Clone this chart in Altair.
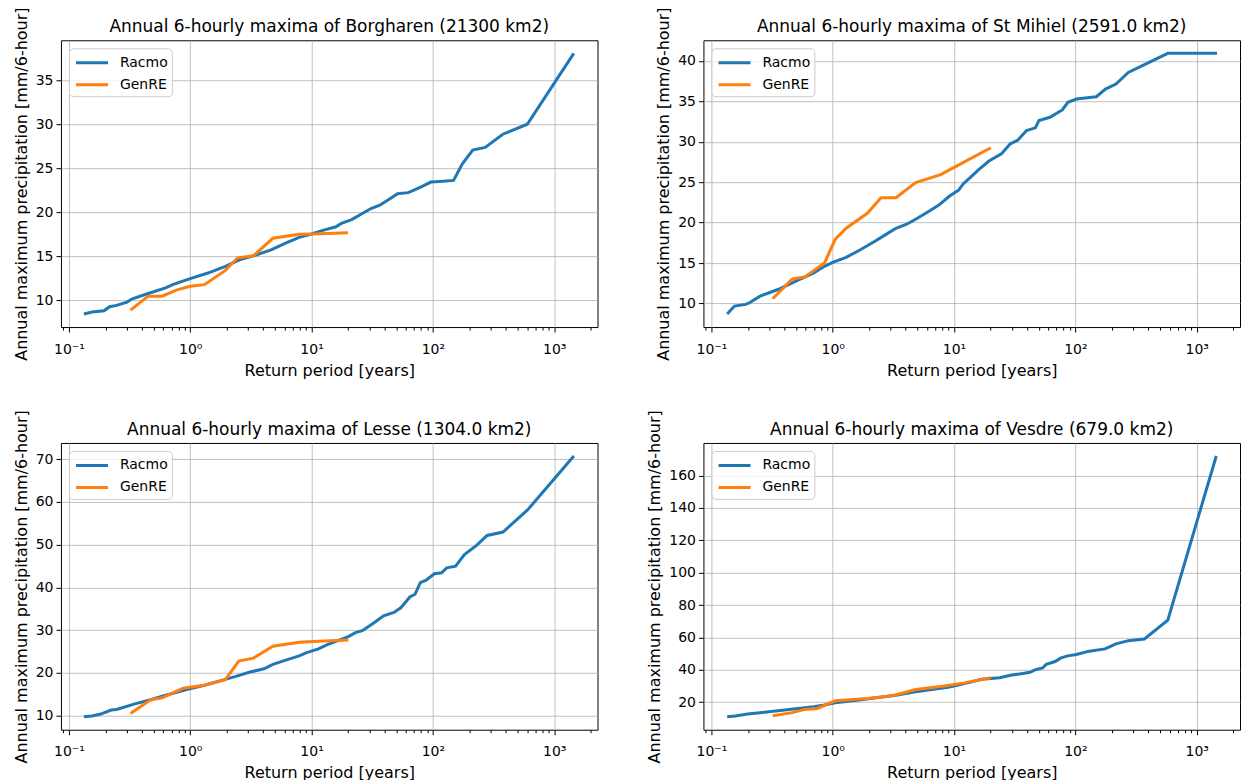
import altair as alt
import pandas as pd

FONT = "DejaVu Sans"
BLUE = "#1f77b4"
ORANGE = "#ff7f0e"
PANEL_W = 537
PANEL_H = 287

# Shared log x-range (return period in years) and the decade / minor tick positions
X_DOMAIN = [0.086, 2275]
MAJOR_TICKS = [0.1, 1, 10, 100, 1000]
MINOR_TICKS = [m * d for d in [0.01, 0.1, 1, 10, 100, 1000] for m in range(2, 10)]
MINOR_TICKS = [v for v in MINOR_TICKS if X_DOMAIN[0] <= v <= X_DOMAIN[1]]

# --- Borgharen ---
borg_racmo_T = [0.133, 0.155, 0.195, 0.216, 0.247, 0.301, 0.333, 0.45, 0.627, 0.716, 1.0, 1.4, 1.95,
                2.54, 3.32, 4.64, 6.05, 7.9, 10, 12.6, 15.9, 17.6, 21.4, 26.2, 30.9, 36.5, 43.3, 51.2,
                62.7, 71.3, 81.6, 96.3, 114, 148, 175, 213, 270, 377, 600, 1450]
borg_racmo_P = [8.46, 8.68, 8.83, 9.29, 9.44, 9.81, 10.19, 10.79, 11.43, 11.8, 12.48, 13.12, 13.87,
                14.62, 15.08, 15.75, 16.5, 17.18, 17.56, 18.0, 18.38, 18.76, 19.2, 19.89, 20.45, 20.83,
                21.47, 22.14, 22.26, 22.6, 22.97, 23.46, 23.53, 23.65, 25.53, 27.1, 27.4, 28.9, 30.04, 38.1]
borg_genre_T = [0.322, 0.45, 0.586, 0.766, 1.0, 1.31, 1.95, 2.46, 3.32, 4.8, 7.9, 10.3, 20]
borg_genre_P = [8.91, 10.49, 10.49, 11.17, 11.62, 11.8, 13.42, 14.85, 15.08, 17.07, 17.52, 17.56, 17.7]
borg_yticks = [10, 15, 20, 25, 30, 35]

# --- St Mihiel ---
mih_racmo_T = [0.135, 0.155, 0.192, 0.206, 0.252, 0.354, 0.497, 0.698, 0.855, 1.0, 1.29, 1.69, 2.21,
               2.71, 3.32, 4.07, 4.99, 6.12, 7.5, 9.2, 10.9, 12.0, 13.8, 15.8, 19.4, 24.6, 29.1, 33.3,
               39.6, 46.8, 50.1, 61.7, 78, 86.8, 102, 149, 177, 216, 273, 578, 1470]
mih_racmo_P = [8.69, 9.67, 9.88, 10.08, 10.9, 11.72, 12.75, 13.77, 14.59, 15.08, 15.7, 16.64, 17.66,
               18.48, 19.3, 19.8, 20.53, 21.35, 22.17, 23.28, 24.0, 24.84, 25.66, 26.48, 27.62, 28.52,
               29.75, 30.16, 31.39, 31.72, 32.62, 33.03, 33.93, 34.88, 35.29, 35.57, 36.52, 37.13,
               38.57, 40.94, 40.94]
mih_genre_T = [0.32, 0.465, 0.589, 0.855, 1.05, 1.29, 1.93, 2.5, 3.32, 4.83, 7.76, 10.2, 20.1]
mih_genre_P = [10.57, 13.03, 13.28, 15.0, 17.95, 19.3, 21.15, 23.07, 23.07, 24.96, 25.94, 26.89, 29.26]
mih_yticks = [10, 15, 20, 25, 30, 35, 40]

# --- Lesse ---
les_racmo_T = [0.133, 0.155, 0.183, 0.223, 0.247, 0.344, 0.48, 0.627, 0.936, 1.31, 1.82, 2.38, 3.11,
               4.06, 4.8, 6.05, 7.9, 9.0, 11.4, 13.5, 16.5, 20.1, 23.0, 26.2, 32.1, 39.2, 47.8, 54.7,
               64.6, 71.3, 78.8, 87.2, 103, 118, 130, 154, 182, 229, 280, 378, 603, 1452]
les_racmo_P = [9.77, 9.92, 10.39, 11.32, 11.47, 12.71, 13.79, 14.8, 16.11, 17.12, 18.28, 19.21, 20.22,
               20.99, 22.0, 22.93, 24.0, 24.7, 25.63, 26.64, 27.57, 28.5, 29.43, 29.89, 31.59, 33.37,
               34.15, 35.31, 37.79, 38.41, 41.11, 41.66, 43.2, 43.44, 44.6, 44.98, 47.7, 49.86, 52.18,
               52.96, 58.14, 70.76]
les_genre_T = [0.322, 0.465, 0.586, 0.875, 1.31, 1.95, 2.51, 3.32, 4.8, 7.9, 10.3, 20.1]
les_genre_P = [10.54, 13.64, 14.18, 16.42, 17.12, 18.44, 22.77, 23.47, 26.25, 27.18, 27.34, 27.72]
les_yticks = [10, 20, 30, 40, 50, 60, 70]

# --- Vesdre ---
ves_racmo_T = [0.135, 0.157, 0.199, 0.252, 0.354, 0.497, 0.698, 0.855, 1.05, 1.58, 2.37, 3.32, 4.67,
               6.55, 9.2, 12.9, 16.9, 23.8, 29.1, 35.8, 42.3, 46.9, 53.7, 57.5, 68.1, 75.4, 86.3, 102,
               130, 176, 216, 274, 371, 578, 1450]
ves_racmo_P = [11.0, 11.4, 12.6, 13.5, 14.7, 15.9, 17.1, 18.2, 19.6, 21.2, 22.9, 24.3, 26.3, 27.8,
               29.4, 31.9, 34.1, 35.1, 36.6, 37.6, 38.4, 40.0, 41.1, 43.3, 45.1, 47.2, 48.6, 49.4,
               51.5, 52.9, 56.0, 58.0, 59.0, 70.7, 172.1]
ves_genre_T = [0.32, 0.465, 0.589, 0.747, 1.05, 1.93, 3.11, 4.83, 8.05, 12.1, 20.1]
ves_genre_P = [11.6, 13.5, 15.5, 16.1, 20.8, 22.2, 23.9, 27.8, 29.8, 31.9, 35.1]
ves_yticks = [20, 40, 60, 80, 100, 120, 140, 160]

SUPER_LABEL = "'10' + ['\u207b\u00b9', '\u2070', '\u00b9', '\u00b2', '\u00b3'][round(log(datum.value) / LN10) + 1]"

# Legend handle: a horizontal stroke longer than the nominal symbol box
HANDLE = "M-0.82,0H2.74"


def panel(title, rT, rP, gT, gP, yticks):
    df = pd.DataFrame({
        "T": rT + gT,
        "P": rP + gP,
        "series": ["Racmo"] * len(rT) + ["GenRE"] * len(gT),
    })
    lo, hi = min(df["P"]), max(df["P"])
    pad = 0.05 * (hi - lo)
    xscale = alt.Scale(type="log", domain=X_DOMAIN, nice=False)
    yenc = alt.Y("P:Q",
                 scale=alt.Scale(domain=[lo - pad, hi + pad], nice=False, zero=False),
                 axis=alt.Axis(values=yticks, format="d",
                               title="Annual maximum precipitation [mm/6-hour]"))
    color = alt.Color("series:N",
                      scale=alt.Scale(domain=["Racmo", "GenRE"], range=[BLUE, ORANGE]),
                      legend=alt.Legend(title=None, orient="top-left", offset=8,
                                        symbolType=HANDLE, symbolSize=324,
                                        symbolStrokeWidth=3, labelFontSize=14,
                                        labelFont=FONT, labelColor="black", labelOffset=26,
                                        fillColor="rgba(255,255,255,0.8)",
                                        strokeColor="#cccccc", cornerRadius=4, padding=4,
                                        rowPadding=4))
    base = alt.Chart(df)
    racmo = base.transform_filter(alt.datum.series == "Racmo").mark_line(
        strokeWidth=3).encode(
        x=alt.X("T:Q", scale=xscale,
                axis=alt.Axis(orient="bottom", values=MAJOR_TICKS, labelExpr=SUPER_LABEL,
                              labelPadding=10, title="Return period [years]")),
        y=yenc, color=color)
    genre = base.transform_filter(alt.datum.series == "GenRE").mark_line(
        strokeWidth=3).encode(
        x=alt.X("T:Q", scale=xscale,
                axis=alt.Axis(orient="bottom", values=MINOR_TICKS, labels=False, grid=False,
                              tickSize=3, title=None, domain=False)),
        y=yenc, color=color)
    # panel heading, drawn as text just above the plot frame
    heading = alt.Chart(pd.DataFrame({"heading": [title]})).mark_text(
        font=FONT, fontSize=17, color="black", align="center", baseline="alphabetic"
    ).encode(text="heading:N", x=alt.value(PANEL_W / 2), y=alt.value(-8))
    return alt.layer(racmo, genre, heading).resolve_axis(x="independent").properties(
        width=PANEL_W, height=PANEL_H)


p1 = panel("Annual 6-hourly maxima of Borgharen (21300 km2)",
           borg_racmo_T, borg_racmo_P, borg_genre_T, borg_genre_P, borg_yticks)
p2 = panel("Annual 6-hourly maxima of St Mihiel (2591.0 km2)",
           mih_racmo_T, mih_racmo_P, mih_genre_T, mih_genre_P, mih_yticks)
p3 = panel("Annual 6-hourly maxima of Lesse (1304.0 km2)",
           les_racmo_T, les_racmo_P, les_genre_T, les_genre_P, les_yticks)
p4 = panel("Annual 6-hourly maxima of Vesdre (679.0 km2)",
           ves_racmo_T, ves_racmo_P, ves_genre_T, ves_genre_P, ves_yticks)

chart = alt.concat(
    p1, p2, p3, p4, columns=2,
    spacing={"row": 116, "column": 106}, bounds="flush",
).resolve_scale(
    y="independent", color="independent"
).properties(
    padding={"left": 12, "top": 6, "right": 0, "bottom": 0},
    background="white",
).configure_axis(
    labelFont=FONT, titleFont=FONT, labelFontSize=14, titleFontSize=16,
    labelColor="black", titleColor="black", titleFontWeight="normal",
    tickColor="black", tickSize=5, domain=False,
    gridColor="#b0b0b0", gridWidth=0.8, grid=True,
    labelPadding=3, titlePadding=6,
).configure_view(
    stroke="black", strokeWidth=1,
)

chart.save("out.html", embed_options={"renderer": "svg", "actions": False})
